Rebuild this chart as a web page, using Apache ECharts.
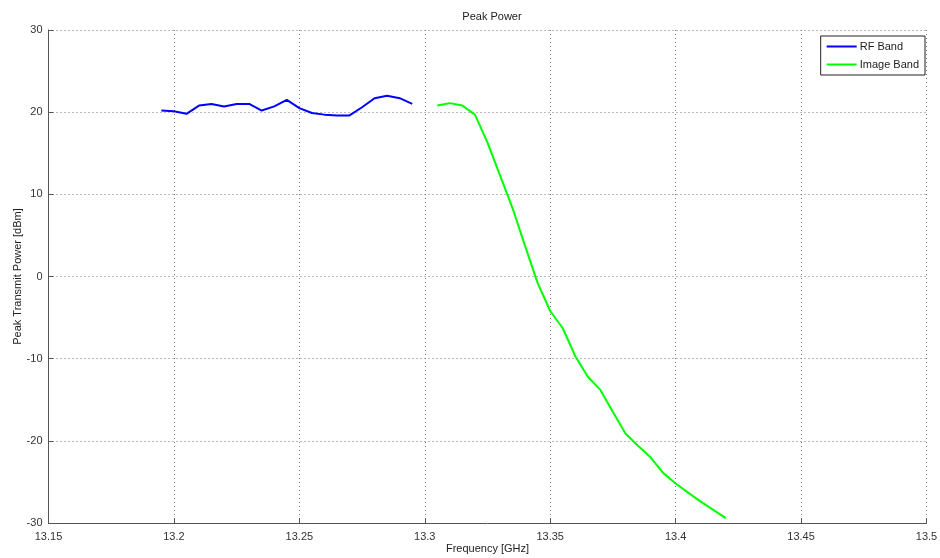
<!DOCTYPE html>
<html>
<head>
<meta charset="utf-8">
<script src="https://cdn.jsdelivr.net/npm/echarts@6/dist/echarts.min.js"></script>
<style>html,body{margin:0;padding:0;background:#fff;}#c{width:940px;height:558px;}</style>
</head>
<body>
<div id="c"></div>
<script>
const rfFreq = [13.195,13.200,13.205,13.210,13.215,13.220,13.225,13.230,13.235,13.240,13.245,13.250,13.255,13.260,13.265,13.270,13.275,13.280,13.285,13.290,13.295];
const rfPower = [20.2,20.1,19.8,20.8,21.0,20.7,21.0,21.0,20.2,20.7,21.5,20.5,19.9,19.7,19.6,19.6,20.6,21.7,22.0,21.7,21.0];
const imgFreq = [13.305,13.310,13.315,13.320,13.325,13.330,13.335,13.340,13.345,13.350,13.355,13.360,13.365,13.370,13.375,13.380,13.385,13.390,13.395,13.400,13.405,13.410,13.415,13.420];
const imgPower = [20.8,21.1,20.8,19.7,16.3,12.3,8.3,3.7,-0.8,-4.2,-6.3,-9.7,-12.2,-13.8,-16.5,-19.1,-20.6,-22.0,-23.9,-25.2,-26.3,-27.4,-28.4,-29.4];
const xTicks = [13.15,13.2,13.25,13.3,13.35,13.4,13.45,13.5];
const yTicks = [-30,-20,-10,0,10,20,30];

const font = 'Liberation Sans, Arial, sans-serif';
const chart = echarts.init(document.getElementById('c'), null, {renderer:'canvas'});
const zip = (a,b) => a.map((v,i)=>[v,b[i]]);
chart.setOption({
  animation:false,
  backgroundColor:'#ffffff',
  title:{text:'Peak Power', left:487, textAlign:'center', top:6,
    textStyle:{fontFamily:font,fontSize:11,fontWeight:'normal',color:'#222'}},
  grid:{left:48.5,right:13.5,top:30,bottom:35,containLabel:false,outerBoundsMode:'none'},
  legend:{
    orient:'vertical', right:15, top:36,
    backgroundColor:'#fff', borderColor:'#222', borderWidth:1, borderRadius:0,
    padding:[5,6,5,6], itemGap:7, itemWidth:30, itemHeight:2, icon:'rect',
    textStyle:{fontFamily:font,fontSize:11,color:'#222',padding:[0,0,0,-2]},
    data:['RF Band','Image Band']
  },
  xAxis:{
    type:'value', min:13.15, max:13.5, interval:0.05,
    name:'Frequency [GHz]', nameLocation:'middle', nameGap:20, nameMoveOverlap:false,
    nameTextStyle:{fontFamily:font,fontSize:11,color:'#222'},
    axisLine:{show:true,onZero:false,lineStyle:{color:'#555',width:1}},
    axisTick:{show:true,inside:true,length:5,lineStyle:{color:'#555'}},
    axisLabel:{fontFamily:font,fontSize:11,color:'#333',margin:8,
      formatter:v=>{const t=xTicks.find(x=>Math.abs(x-v)<1e-6);return t===undefined?'':String(t);}},
    splitLine:{show:true,lineStyle:{color:'#777',type:[1,3],width:1}}
  },
  yAxis:{
    type:'value', min:-30, max:30, interval:10,
    name:'Peak Transmit Power [dBm]', nameLocation:'middle', nameGap:25, nameMoveOverlap:false,
    nameTextStyle:{fontFamily:font,fontSize:11,color:'#222'},
    axisLine:{show:true,onZero:false,lineStyle:{color:'#555',width:1}},
    axisTick:{show:true,inside:true,length:5,lineStyle:{color:'#555'}},
    axisLabel:{fontFamily:font,fontSize:11,color:'#333',margin:6,
      formatter:v=>{const t=yTicks.find(x=>Math.abs(x-v)<1e-6);return t===undefined?'':String(t);}},
    splitLine:{show:true,lineStyle:{color:'#777',type:[1,3],width:1}}
  },
  series:[
    {name:'RF Band',type:'line',data:zip(rfFreq,rfPower),showSymbol:false,symbol:'none',
      lineStyle:{color:'#0000ff',width:2},itemStyle:{color:'#0000ff'}},
    {name:'Image Band',type:'line',data:zip(imgFreq,imgPower),showSymbol:false,symbol:'none',
      lineStyle:{color:'#00ff00',width:2},itemStyle:{color:'#00ff00'}}
  ]
});
</script>
</body>
</html>
